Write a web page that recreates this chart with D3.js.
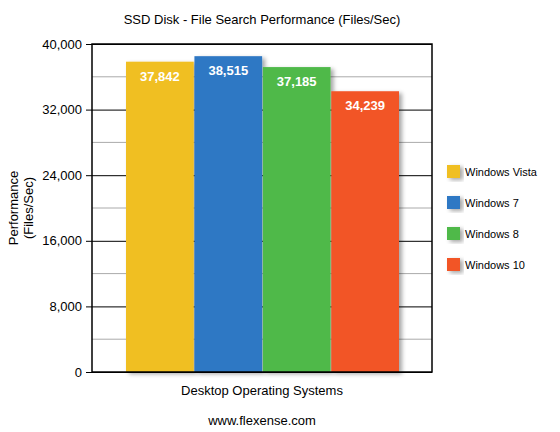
<!DOCTYPE html>
<html>
<head>
<script src="https://cdnjs.cloudflare.com/ajax/libs/d3/7.8.3/d3.min.js"></script>
<style>body{margin:0;background:#fff;font-family:Arial,"Liberation Sans",sans-serif}</style>
</head>
<body>
<script>
const systems = ["Windows Vista", "Windows 7", "Windows 8", "Windows 10"];
const values = [37842, 38515, 37185, 34239];
const colors = ["#f0bf24", "#2e78c4", "#50b94a", "#f25427"];
const majorTicks = [0, 8000, 16000, 24000, 32000, 40000];
const minorTicks = [4000, 12000, 20000, 28000, 36000];

const w = 560, h = 432;
const pLeft = 92, pRight = 432, pTop = 44, pBottom = 372;

const svg = d3.select("body").append("svg").attr("width", w).attr("height", h);
const defs = svg.append("defs");
defs.append("filter").attr("id", "sh").attr("x", "-20%").attr("y", "-20%").attr("width", "150%").attr("height", "150%")
  .append("feDropShadow").attr("dx", 3).attr("dy", 2).attr("stdDeviation", 2).attr("flood-color", "#000").attr("flood-opacity", 0.35);

const y = d3.scaleLinear().domain([0, 40000]).range([pBottom, pTop]);
const x = d3.scaleBand().domain(systems).range([126, 399]).paddingInner(0.01);

svg.selectAll("line.minor").data(minorTicks).enter().append("line")
  .attr("x1", pLeft).attr("x2", pRight).attr("y1", d => y(d)).attr("y2", d => y(d))
  .attr("stroke", "#aaa").attr("stroke-width", 1);

const yAxis = d3.axisLeft(y).tickValues(majorTicks).tickSize(pRight - pLeft + 6).tickPadding(4)
  .tickFormat(d3.format(","));
const ga = svg.append("g").attr("transform", `translate(${pRight},0)`).call(yAxis);
ga.select(".domain").remove();
ga.selectAll("line").attr("stroke", "#000");
ga.selectAll("text").attr("font-size", 13).attr("fill", "#000").attr("font-family", "Arial,Liberation Sans");

svg.selectAll("rect.bar").data(values).enter().append("rect")
  .attr("x", (d, i) => x(systems[i])).attr("width", x.bandwidth())
  .attr("y", d => y(d)).attr("height", d => pBottom - y(d))
  .attr("fill", (d, i) => colors[i]).attr("filter", "url(#sh)");

svg.selectAll("text.val").data(values).enter().append("text")
  .attr("x", (d, i) => x(systems[i]) + x.bandwidth() / 2).attr("y", d => y(d) + 19)
  .attr("text-anchor", "middle").attr("fill", "#fff").attr("font-size", 13).attr("font-weight", "bold")
  .text(d => d3.format(",")(d));

svg.append("rect").attr("x", pLeft).attr("y", pTop).attr("width", pRight - pLeft).attr("height", pBottom - pTop)
  .attr("fill", "none").attr("stroke", "#000").attr("stroke-width", 1.5);

svg.append("text").attr("x", 262).attr("y", 24).attr("text-anchor", "middle").attr("font-size", 13).text("SSD Disk - File Search Performance (Files/Sec)");
svg.append("text").attr("x", 262).attr("y", 395).attr("text-anchor", "middle").attr("font-size", 13).text("Desktop Operating Systems");
svg.append("text").attr("x", 262).attr("y", 425).attr("text-anchor", "middle").attr("font-size", 13).text("www.flexense.com");
const yl = svg.append("text").attr("transform", "translate(18,208) rotate(-90)").attr("text-anchor", "middle").attr("font-size", 13);
yl.append("tspan").attr("x", 0).attr("dy", 0).text("Performance");
yl.append("tspan").attr("x", 0).attr("dy", 15).text("(Files/Sec)");

const leg = svg.selectAll("g.leg").data(systems).enter().append("g")
  .attr("transform", (d, i) => `translate(447,${165 + i * 31})`);
leg.append("rect").attr("width", 13).attr("height", 13).attr("fill", (d, i) => colors[i]).attr("filter", "url(#sh)");
leg.append("text").attr("x", 18).attr("y", 11).attr("font-size", 11).text(d => d);
</script>
</body>
</html>
